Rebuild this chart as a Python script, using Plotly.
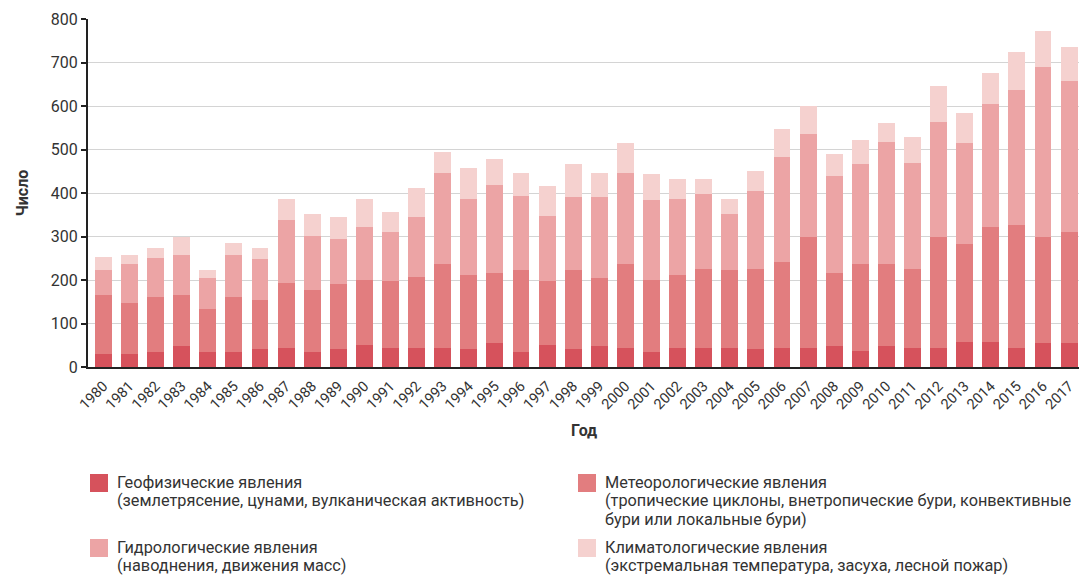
import plotly.graph_objects as go

years = list(range(1980, 2018))
geo = [31, 31, 34, 48, 34, 34, 41, 44, 34, 41, 51, 44, 44, 44, 41, 55, 34, 51, 41, 48,
       44, 34, 44, 44, 44, 41, 44, 44, 48, 37, 48, 44, 44, 58, 58, 44, 55, 55]
meteo = [135, 117, 128, 118, 99, 128, 114, 149, 142, 149, 150, 153, 164, 192, 171, 161, 188, 146, 181, 157,
         192, 167, 168, 182, 178, 185, 197, 254, 168, 199, 188, 182, 256, 225, 264, 282, 245, 256]
hydro = [56, 88, 89, 91, 72, 95, 93, 144, 125, 105, 121, 114, 136, 211, 175, 203, 172, 150, 168, 185,
         211, 182, 175, 171, 129, 179, 242, 238, 224, 230, 282, 243, 264, 232, 282, 311, 390, 347]
clim = [30, 21, 22, 41, 17, 27, 25, 50, 50, 49, 64, 46, 68, 47, 71, 60, 53, 68, 76, 57,
        68, 61, 46, 36, 35, 46, 64, 64, 50, 56, 43, 60, 83, 68, 72, 88, 82, 78]

names = [
    "Геофизические явления<br>(землетрясение, цунами, вулканическая активность)",
    "Метеорологические явления<br>(тропические циклоны, внетропические бури, конвективные<br>бури или локальные бури)",
    "Гидрологические явления<br>(наводнения, движения масс)",
    "Климатологические явления<br>(экстремальная температура, засуха, лесной пожар)",
]
colors = ["#d6525c", "#e27d7f", "#eca4a5", "#f5d1cf"]
series = [geo, meteo, hydro, clim]

W, H = 1079, 576
L, R, T, B = 88, 0, 19, 209
PW, PH = W - L - R, H - T - B

def px_x(p):
    return (p - L) / PW

def px_y(p):
    return 1 - (p - T) / PH

fig = go.Figure()
for vals, nm, c in zip(series, names, colors):
    fig.add_trace(go.Bar(x=years, y=vals, name=nm, marker=dict(color=c, line=dict(width=0)),
                         width=0.65, showlegend=False))

# manual legend (2 columns)
legend_pos = [(90, 474), (578, 474), (90, 539), (578, 539)]
line_h = 18.5
shapes = []
annotations = []
for (lx, ly), nm, c in zip(legend_pos, names, colors):
    shapes.append(dict(type="rect", xref="paper", yref="paper",
                       x0=px_x(lx), x1=px_x(lx + 18), y0=px_y(ly), y1=px_y(ly + 18),
                       fillcolor=c, line=dict(width=0)))
    for i, line in enumerate(nm.split("<br>")):
        annotations.append(dict(xref="paper", yref="paper", x=px_x(lx + 25), y=px_y(ly + 8 + i * line_h),
                                xanchor="left", yanchor="middle", align="left", showarrow=False,
                                text=line, font=dict(family="Roboto", size=16.3, color="#333333")))

# x-axis title
annotations.append(dict(xref="paper", yref="paper", x=0.5, y=px_y(430), xanchor="center", yanchor="middle",
                        showarrow=False, text="<b>Год</b>", font=dict(family="Roboto", size=16, color="#333333")))

fig.update_layout(
    width=W, height=H,
    margin=dict(l=L, r=R, t=T, b=B, autoexpand=False),
    barmode="stack",
    bargap=0.35,
    plot_bgcolor="white", paper_bgcolor="white",
    font=dict(family="Roboto", color="#333333"),
    shapes=shapes,
    annotations=annotations,
    xaxis=dict(
        range=[1979.41, 2017.38],
        tickmode="array", tickvals=years, ticktext=[str(y) for y in years],
        tickangle=-45, tickfont=dict(size=14.5, color="#333333"),
        ticklabelstandoff=3,
        showline=True, linecolor="#222222", linewidth=2,
        ticks="", showgrid=False,
        automargin=False,
    ),
    yaxis=dict(
        range=[0, 800], tickvals=[0, 100, 200, 300, 400, 500, 600, 700, 800],
        tickfont=dict(size=16, color="#333333"),
        showline=True, linecolor="#222222", linewidth=2,
        ticks="outside", ticklen=5, tickcolor="#222222", tickwidth=2,
        showgrid=True, gridcolor="#d4d4d4", gridwidth=1,
        zeroline=False,
        title=dict(text="<b>Число</b>", font=dict(size=16, color="#333333"), standoff=18),
        automargin=False,
    ),
)

fig.write_html("out.html", config={"displayModeBar": False},
               post_script="document.body.style.margin='0';document.body.style.padding='0';")
